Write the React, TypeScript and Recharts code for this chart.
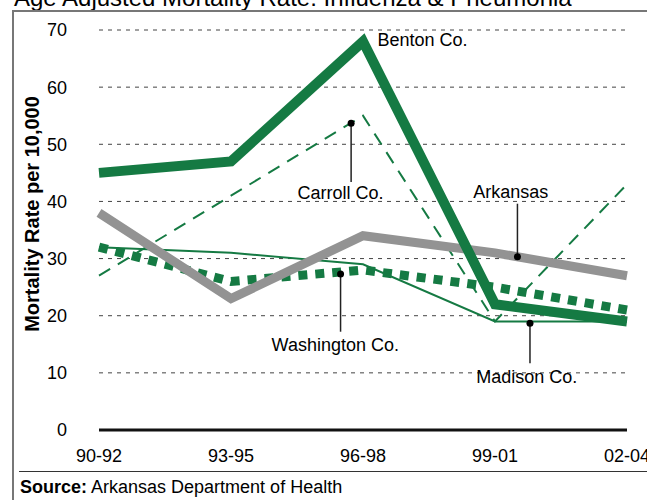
import React from "react";
import {
  LineChart,
  Line,
  XAxis,
  YAxis,
  CartesianGrid,
  ReferenceDot,
  ReferenceLine,
} from "recharts";

const periods = ["90-92", "93-95", "96-98", "99-01", "02-04"];
const benton = [45, 47, 68, 22, 19];
const carroll = [27, 41, 55, 19, 43];
const madison = [32, 31, 29, 19, 19];
const washington = [32, 26, 28, 25, 21];
const arkansas = [38, 23, 34, 31, 27];
const yTicks = [0, 10, 20, 30, 40, 50, 60, 70];

// callouts: dot on the line, end of the leader, label spot
const callouts = [
  { name: "Carroll Co.", dot: [1.91, 53.7], end: 43.4, text: [1.83, 41.5] },
  { name: "Arkansas", dot: [3.17, 30.3], end: 39.6, text: [3.12, 41.8] },
  { name: "Washington Co.", dot: [1.83, 27.3], end: 17.2, text: [1.79, 14.9] },
  { name: "Madison Co.", dot: [3.265, 18.7], end: 11.7, text: [3.24, 9.3] },
];
const bentonLabel = { name: "Benton Co.", at: [2.11, 68.3] };

const GREEN = "#157a43";
const GRAY = "#939393";
const FONT = "'Liberation Sans', Arial, Helvetica, sans-serif";

const data = periods.map((p, i) => ({
  x: i,
  benton: benton[i],
  carroll: carroll[i],
  madison: madison[i],
  washington: washington[i],
  arkansas: arkansas[i],
}));

const YLabel = ({ viewBox }: any) => {
  const cy = viewBox.y + viewBox.height / 2 - 16;
  return (
    <text
      x={32}
      y={cy}
      transform={`rotate(-90, 32, ${cy})`}
      textAnchor="middle"
      dominantBaseline="central"
      fontSize={20}
      fontWeight="bold"
      fill="#000"
      fontFamily={FONT}
    >
      Mortality Rate per 10,000
    </text>
  );
};

export default function App() {
  return (
    <div
      style={{
        position: "absolute",
        left: 0,
        top: 0,
        width: 647,
        height: 500,
        overflow: "hidden",
        background: "#fff",
        fontFamily: FONT,
      }}
    >
      <div
        style={{
          position: "absolute",
          left: 14,
          top: -14,
          fontSize: 24,
          lineHeight: "24px",
          whiteSpace: "nowrap",
          color: "#000",
        }}
      >
        Age Adjusted Mortality Rate: Influenza &amp; Pneumonia
      </div>
      <div
        style={{
          position: "absolute",
          left: 12,
          top: 10,
          width: 700,
          height: 520,
          borderLeft: "2px solid #777",
          borderTop: "2px solid #777",
        }}
      />
      <div style={{ position: "absolute", left: 0, top: 0 }}>
        <LineChart
          width={647}
          height={500}
          data={data}
          margin={{ top: 30, right: 20, bottom: 40, left: 0 }}
        >
          <CartesianGrid
            horizontal
            vertical={false}
            stroke="#444"
            strokeDasharray="4 5"
          />
          <XAxis
            dataKey="x"
            type="number"
            domain={[0, 4]}
            ticks={[0, 1, 2, 3, 4]}
            tickFormatter={(v: number) => periods[v]}
            axisLine={{ stroke: "#111", strokeWidth: 3 }}
            tickLine={false}
            tickSize={0}
            tickMargin={19}
            tick={{ fontSize: 18, fill: "#000", fontFamily: FONT }}
            interval={0}
          />
          <YAxis
            domain={[0, 70]}
            ticks={yTicks}
            width={99}
            axisLine={false}
            tickLine={false}
            tickSize={0}
            tickMargin={32}
            tick={{ fontSize: 18, fill: "#000", fontFamily: FONT }}
            label={<YLabel />}
          />
          <Line
            dataKey="carroll"
            stroke={GREEN}
            strokeWidth={2}
            strokeDasharray="13 9"
            dot={false}
            isAnimationActive={false}
          />
          <Line
            dataKey="madison"
            stroke={GREEN}
            strokeWidth={2}
            dot={false}
            isAnimationActive={false}
          />
          <Line
            dataKey="washington"
            stroke={GREEN}
            strokeWidth={9}
            strokeDasharray="9 8"
            dot={false}
            isAnimationActive={false}
          />
          <Line
            dataKey="arkansas"
            stroke={GRAY}
            strokeWidth={9}
            dot={false}
            isAnimationActive={false}
          />
          <Line
            dataKey="benton"
            stroke={GREEN}
            strokeWidth={10}
            dot={false}
            isAnimationActive={false}
          />
          {callouts.map((c) => (
            <ReferenceLine
              key={`l-${c.name}`}
              segment={[
                { x: c.dot[0], y: c.dot[1] },
                { x: c.dot[0], y: c.end },
              ]}
              stroke="#222"
              strokeWidth={1.5}
            />
          ))}
          {callouts.map((c) => (
            <ReferenceDot
              key={`d-${c.name}`}
              x={c.dot[0]}
              y={c.dot[1]}
              r={3.5}
              fill="#000"
              stroke="none"
            />
          ))}
          {callouts.map((c) => (
            <ReferenceDot
              key={`t-${c.name}`}
              x={c.text[0]}
              y={c.text[1]}
              r={0}
              fill="none"
              stroke="none"
              label={{
                value: c.name,
                position: "center",
                fontSize: 18,
                fill: "#000",
                fontFamily: FONT,
              }}
            />
          ))}
          <ReferenceDot
            x={bentonLabel.at[0]}
            y={bentonLabel.at[1]}
            r={0}
            fill="none"
            stroke="none"
            label={{
              value: bentonLabel.name,
              position: "right",
              offset: 0,
              fontSize: 18,
              fill: "#000",
              fontFamily: FONT,
            }}
          />
        </LineChart>
      </div>
      <div
        style={{
          position: "absolute",
          left: 19,
          top: 471,
          width: 640,
          borderTop: "1.5px solid #333",
        }}
      />
      <div
        style={{
          position: "absolute",
          left: 20,
          top: 476,
          fontSize: 18,
          lineHeight: "22px",
          whiteSpace: "nowrap",
          color: "#000",
        }}
      >
        <b>Source:</b> Arkansas Department of Health
      </div>
    </div>
  );
}
